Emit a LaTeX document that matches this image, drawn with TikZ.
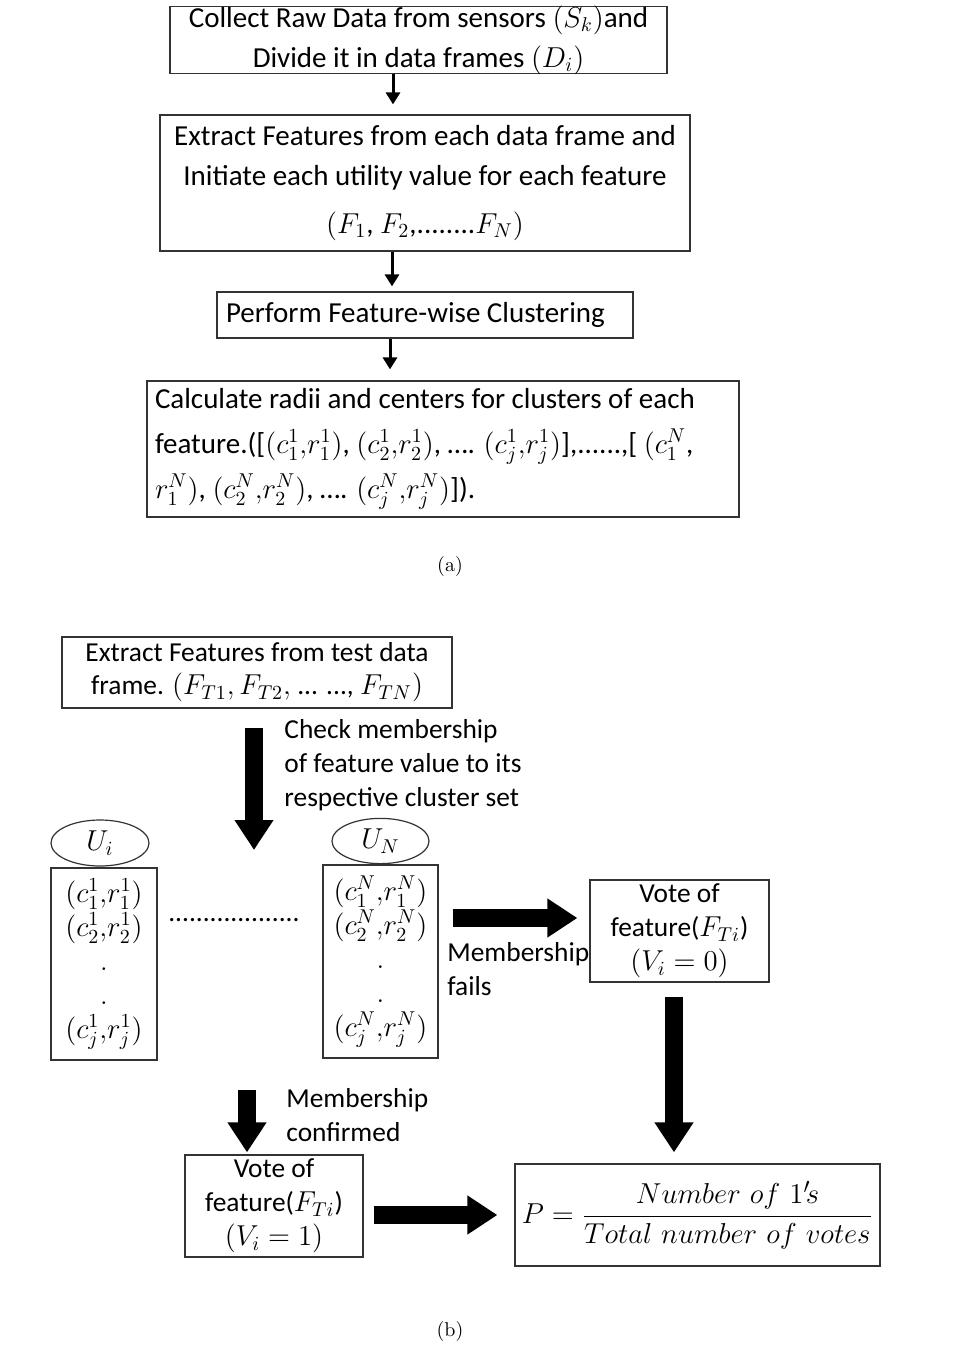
\documentclass[tikz,border=0pt]{standalone}
\usepackage{amsmath,amssymb}
\usepackage{fontspec}
\newfontfamily\calib{Carlito}
\usetikzlibrary{arrows.meta,shapes.geometric}

\begin{document}
\begin{tikzpicture}[
            x=0.5pt, y=-0.5pt,
            every node/.style={inner sep=2pt},
            box/.style={draw=black!80, line width=0.6pt, inner ysep=0.5pt},
            oval/.style={draw=black!80, ellipse, line width=0.6pt, font=\fontsize{14}{16}\selectfont},
            textA/.style={font=\calib\fontsize{14.5}{20}\selectfont},
            textB/.style={font=\calib\fontsize{13.7}{17}\selectfont},
            thinarrow/.style={line width=1.5pt, -{Triangle[length=6pt,width=7pt]}},
            bigarrow/.style={line width=9pt, -{Triangle[length=15pt,width=18.5pt]}}
        ]
        \useasboundingbox (0,0) rectangle (964,1346);
        % (a) training
        \node[box, textA, inner ysep=-1pt, minimum width=248.5pt, minimum height=33.5pt, align=center] (collect) at (418.5,40)
            {Collect Raw Data from sensors $(S_k)$and\\ Divide it in data frames $(D_i)$};
        \node[box, textA, minimum width=265pt, minimum height=68pt, align=center] (extract) at (425,183)
            {Extract Features from each data frame and\\ Initiate each utility value for each feature\\[4pt] $(F_1$, $F_2$,........$F_N)$};
        \node[box, textA, minimum width=208pt, minimum height=23pt, inner xsep=4.5pt, text width=199pt, align=flush left] (cluster) at (425,315)
            {Perform Feature-wise Clustering};
        \node[box, textA, font=\calib\fontsize{14.5}{22.5}\selectfont, minimum width=296pt, minimum height=68pt, inner xsep=4pt, text width=288pt, align=flush left] (radii) at (443,449)
            {Calculate radii and centers for clusters of each\\
             feature.([$(c^1_1{,}r^1_1)$, $(c^1_2{,}r^1_2)$, \ldots. $(c^1_j{,}r^1_j)$],......,[ $(c^N_1$,\\
             $r^N_1)$, $(c^N_2{,}r^N_2)$, \ldots. $(c^N_j{,}r^N_j)$]).};
        \draw[thinarrow, shorten >=5pt] (collect.south -| 393,0) -- (extract.north -| 393,0);
        \draw[thinarrow, shorten >=2.5pt] (extract.south -| 392,0) -- (cluster.north -| 392,0);
        \draw[thinarrow, shorten >=5.5pt] (cluster.south -| 390,0) -- (radii.north -| 390,0);
        \node (capA) at (450,566) {(a)};

        % (b) testing
        \node[box, textB, font=\calib\fontsize{13.7}{16.5}\selectfont, minimum width=195pt, minimum height=35.5pt, align=center] (test) at (257,672.5)
            {Extract Features from test data\\ frame. $(F_{T1}, F_{T2},$ ... ..., $F_{TN})$};
        \node[textB, anchor=west, align=left] (check) at (280,765)
            {Check membership\\ of feature value to its\\ respective cluster set};
        \node[oval, minimum width=49pt, minimum height=23pt] (Ui) at (100,843) {$U_i$};
        \node[oval, minimum width=48.5pt, minimum height=22pt] (UN) at (380.5,841) {$U_N$};
        \node[box, font=\fontsize{14}{17}\selectfont, minimum width=53pt, minimum height=96pt, align=center] (setI) at (104,964)
            {$(c^1_1{,}r^1_1)$\\ $(c^1_2{,}r^1_2)$\\ .\\ .\\ $(c^1_j{,}r^1_j)$};
        \node[box, font=\fontsize{14}{17}\selectfont, minimum width=57.5pt, minimum height=96.5pt, align=center] (setN) at (380.5,961.5)
            {$(c^N_1{,}r^N_1)$\\ $(c^N_2{,}r^N_2)$\\ .\\ .\\ $(c^N_j{,}r^N_j)$};
        \node[textB] (gap) at (234,920) {...................};
        \node[box, textB, minimum width=89.5pt, minimum height=51pt, align=center] (vote0) at (679.5,931)
            {Vote of\\ feature($F_{Ti}$)\\ $(V_i = 0)$};
        \node[textB, anchor=west, align=left] (fails) at (443,969) {Membership\\ fails};
        \node[textB, anchor=west, align=left] (confirm) at (282,1115) {Membership\\ confirmed};
        \node[box, textB, minimum width=89pt, minimum height=51pt, align=center] (vote1) at (274,1206)
            {Vote of\\ feature($F_{Ti}$)\\ $(V_i = 1)$};
        \node[box, font=\fontsize{15}{17}\selectfont, minimum width=182.5pt, minimum height=51pt] (P) at (697.5,1215)
            {$\displaystyle P = \frac{Number\ of\ 1'\!s}{Total\ number\ of\ votes}$};
        \coordinate (split) at (254,850);
        \coordinate (conf) at (247,1090);
        \draw[bigarrow, shorten <=9.5pt] (test.south -| split) -- (split);
        \draw[bigarrow, shorten <=7pt, shorten >=6pt] (setN.east |- 0,918) -- (vote0.west |- 0,918);
        \draw[bigarrow, shorten <=7pt, shorten >=5.5pt] (vote0.south -| 674,0) -- (P.north -| 674,0);
        \draw[bigarrow, shorten >=1pt] (conf) -- (vote1.north -| conf);
        \draw[bigarrow, shorten <=5pt, shorten >=8.5pt] (vote1.east |- 0,1215) -- (P.west |- 0,1215);
        \node (capB) at (450,1331) {(b)};
\end{tikzpicture}
\end{document}
